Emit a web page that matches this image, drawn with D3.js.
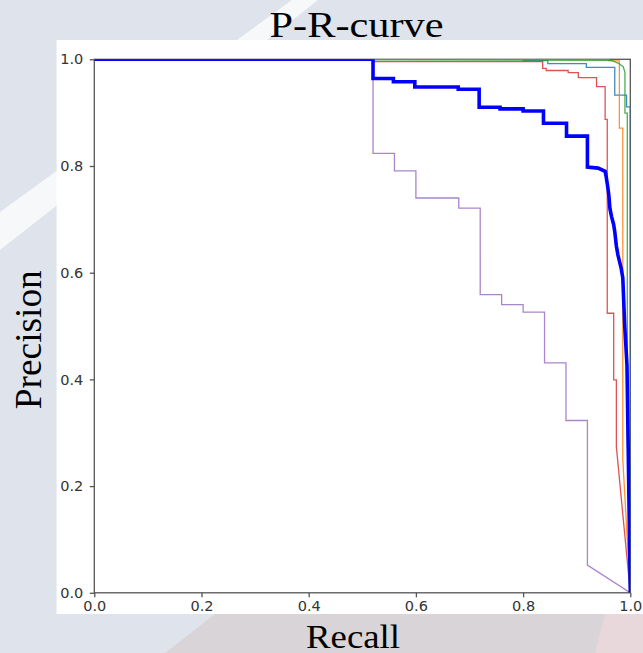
<!DOCTYPE html>
<html>
<head>
<meta charset="utf-8">
<title>P-R-curve</title>
<script src="https://d3js.org/d3.v7.min.js"></script>
<style>
  html, body { margin: 0; padding: 0; background: #dfe4ec; }
  svg { display: block; }
</style>
</head>
<body>
<div id="chart"></div>
<script>
// ------------------------------ DATA ------------------------------ //
// corner points [recall, precision] of each step curve
const tickValues = [0, 0.2, 0.4, 0.6, 0.8, 1.0];
const tickLabels = ["0.0", "0.2", "0.4", "0.6", "0.8", "1.0"];

const class0 = [[0, 1], [0.8, 1], [0.8, 0.9975], [0.846, 0.9975], [0.846, 0.992], [0.918, 0.992],
  [0.918, 0.985], [0.971, 0.985], [0.971, 0.933], [0.993, 0.933], [0.993, 0.911], [1.0, 0.911], [1.0, 0.0]];
const class1 = [[0, 1], [0.96, 1], [0.96, 0.997], [0.9796, 0.997], [0.9796, 0.871], [0.986, 0.871],
  [0.986, 0.25], [1.0, 0.0]];
const class2 = [[0, 1], [0.965, 0.998], [0.978, 0.9925], [0.987, 0.986], [0.99, 0.975], [0.99, 0.899],
  [0.9944, 0.899], [0.9944, 0.3], [1.0, 0.0]];
const class3 = [[0, 1], [0.52, 1], [0.52, 0.9955], [0.8365, 0.9955], [0.8365, 0.983], [0.843, 0.983],
  [0.843, 0.979], [0.884, 0.979], [0.884, 0.975], [0.903, 0.975], [0.903, 0.9655], [0.937, 0.9655],
  [0.937, 0.9487], [0.953, 0.9487], [0.953, 0.8875], [0.957, 0.8875], [0.957, 0.524], [0.969, 0.524],
  [0.969, 0.399], [0.974, 0.399], [0.974, 0.274], [1.0, 0.0]];
const class4 = [[0, 1], [0.52, 1], [0.52, 0.8236], [0.56, 0.8236], [0.56, 0.791], [0.60, 0.791],
  [0.60, 0.740], [0.68, 0.740], [0.68, 0.721], [0.72, 0.721], [0.72, 0.559], [0.76, 0.559],
  [0.76, 0.540], [0.80, 0.540], [0.80, 0.526], [0.84, 0.526], [0.84, 0.431], [0.88, 0.431],
  [0.88, 0.323], [0.92, 0.323], [0.92, 0.052], [1.0, 0.0]];
const allClasses = [[0, 1], [0.52, 1], [0.52, 0.964], [0.558, 0.964], [0.558, 0.958], [0.598, 0.958],
  [0.598, 0.948], [0.679, 0.948], [0.679, 0.944], [0.718, 0.944], [0.718, 0.910], [0.757, 0.910],
  [0.757, 0.907], [0.80, 0.907], [0.80, 0.903], [0.838, 0.903], [0.838, 0.880], [0.881, 0.880],
  [0.881, 0.856], [0.92, 0.856], [0.92, 0.798], [0.94, 0.796], [0.953, 0.79], [0.955, 0.78],
  [0.958, 0.76], [0.960, 0.745], [0.962, 0.72], [0.965, 0.705], [0.969, 0.69], [0.971, 0.677],
  [0.974, 0.65], [0.977, 0.633], [0.983, 0.608], [0.986, 0.59], [0.9895, 0.502], [0.9938, 0.427],
  [1.0, 0.0]];

// -------------------------- PREPARATION --------------------------- //
const width = 643, height = 653;
const plotLeft = 94.3, plotRight = 630.3, plotTop = 59.3, plotBottom = 592.8;

const svg = d3.select("#chart").append("svg")
  .attr("width", width)
  .attr("height", height);

// slide background behind the figure
svg.append("rect").attr("width", width).attr("height", height).attr("fill", "#dfe4ec");
svg.append("polygon")
  .attr("points", "292,0 318,0 0,250 0,212")
  .attr("fill", "#ffffff").attr("opacity", 0.75);
svg.append("polygon")
  .attr("points", "215,614 643,614 643,653 165,653")
  .attr("fill", "#d8d4d7");
svg.append("polygon")
  .attr("points", "605,614 643,614 643,653 595,653")
  .attr("fill", "#e9d8db");

// figure panel
svg.append("rect")
  .attr("x", 56.6).attr("y", 40)
  .attr("width", width - 56.6).attr("height", 574)
  .attr("fill", "#ffffff");

// ----------------------------- SCALES ----------------------------- //
const x = d3.scaleLinear().domain([0, 1]).range([plotLeft, plotRight]);
const y = d3.scaleLinear().domain([0, 1]).range([plotBottom, plotTop]);

// ------------------------------ AXES ------------------------------ //
const fmt = d => tickLabels[tickValues.indexOf(d)];
const xAxis = d3.axisBottom(x).tickValues(tickValues).tickFormat(fmt)
  .tickSizeInner(4.5).tickSizeOuter(0).tickPadding(3);
const yAxis = d3.axisLeft(y).tickValues(tickValues).tickFormat(fmt)
  .tickSizeInner(4.5).tickSizeOuter(0).tickPadding(6.5);

const gx = svg.append("g").attr("transform", "translate(0," + plotBottom + ")").call(xAxis);
const gy = svg.append("g").attr("transform", "translate(" + plotLeft + ",0)").call(yAxis);
[gx, gy].forEach(g => {
  g.select(".domain").remove();
  g.selectAll("line").attr("stroke", "#555").attr("stroke-width", 1.3);
  g.selectAll("text")
    .attr("fill", "#333")
    .style("font-family", "'DejaVu Sans', sans-serif")
    .style("font-size", "14.5px");
});

// frame (all four spines)
svg.append("rect")
  .attr("x", plotLeft).attr("y", plotTop)
  .attr("width", plotRight - plotLeft).attr("height", plotBottom - plotTop)
  .attr("fill", "none").attr("stroke", "#555").attr("stroke-width", 1.3);

// ----------------------------- LINES ------------------------------ //
svg.append("clipPath").attr("id", "plot-clip")
  .append("rect")
  .attr("x", plotLeft).attr("y", plotTop)
  .attr("width", plotRight - plotLeft).attr("height", plotBottom - plotTop);

const line = d3.line()
  .x(d => x(d[0]))
  .y(d => y(d[1]));

const curves = [
  { values: class0, color: "#1f77b4", w: 1.3, op: 0.85 },
  { values: class1, color: "#ff7f0e", w: 1.3, op: 0.85 },
  { values: class2, color: "#2ca02c", w: 1.3, op: 0.85 },
  { values: class3, color: "#d62728", w: 1.3, op: 0.8 },
  { values: class4, color: "#9467bd", w: 1.3, op: 0.8 },
  { values: allClasses, color: "#0000ff", w: 3.6, op: 1 }
];

svg.append("g")
  .attr("clip-path", "url(#plot-clip)")
  .selectAll("path")
  .data(curves)
  .enter()
  .append("path")
  .attr("d", d => line(d.values))
  .attr("fill", "none")
  .attr("stroke", d => d.color)
  .attr("stroke-width", d => d.w)
  .attr("stroke-opacity", d => d.op)
  .attr("stroke-linejoin", "miter");

// ----------------------------- TITLES ----------------------------- //
const serif = "'Liberation Serif', 'Times New Roman', serif";
svg.append("text")
  .attr("x", 356.5).attr("y", 37.3)
  .attr("text-anchor", "middle")
  .attr("textLength", 174).attr("lengthAdjust", "spacingAndGlyphs")
  .style("font-family", serif).style("font-size", "35px").attr("fill", "#000")
  .text("P-R-curve");

svg.append("text")
  .attr("x", 353).attr("y", 647.5)
  .attr("text-anchor", "middle")
  .attr("textLength", 94).attr("lengthAdjust", "spacingAndGlyphs")
  .style("font-family", serif).style("font-size", "34.5px").attr("fill", "#000")
  .text("Recall");

svg.append("text")
  .attr("transform", "translate(41,339.7) rotate(-90)")
  .attr("text-anchor", "middle")
  .attr("textLength", 139).attr("lengthAdjust", "spacingAndGlyphs")
  .style("font-family", serif).style("font-size", "37px").attr("fill", "#000")
  .text("Precision");
</script>
</body>
</html>
